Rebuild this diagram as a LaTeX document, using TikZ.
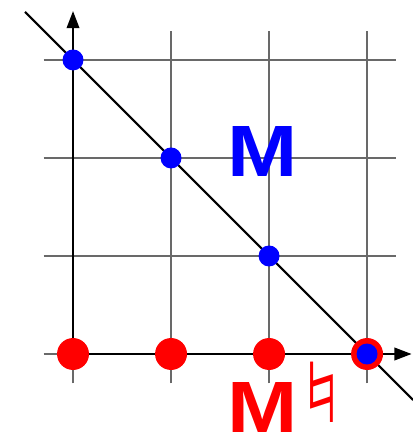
\documentclass[tikz,border=0pt]{standalone}
\usepackage{fontspec}
\newfontfamily\labelfont{Liberation Sans}
\newfontfamily\signfont{DejaVu Sans}
\usetikzlibrary{arrows.meta}
\definecolor{ink}{RGB}{0,0,0}
\definecolor{gridgray}{RGB}{105,105,105}
\definecolor{dotblue}{RGB}{0,0,255}
\definecolor{dotred}{RGB}{255,0,0}

\begin{document}
\begin{tikzpicture}[x=1cm, y=1cm,
  bluedot/.style={circle, fill=dotblue, inner sep=0pt, minimum size=0.214cm},
  reddot/.style={circle, fill=dotred, inner sep=0pt, minimum size=0.326cm},
  biglabel/.style={font=\labelfont\bfseries\fontsize{21.1}{21.1}\selectfont, inner sep=0pt}]
\useasboundingbox (-0.745,-0.806) rectangle (3.459,3.612);
% grid
\foreach \k in {0,...,3} {
  \draw[gridgray, line width=0.45pt] (\k,-0.3) -- (\k,3.3);
  \draw[gridgray, line width=0.45pt] (-0.3,\k) -- (3.3,\k);
}
% axes
\draw[ink, line width=0.7pt, -{Triangle[length=5pt, width=3.6pt]}] (0,0) -- (3.455,0);
\draw[ink, line width=0.7pt, -{Triangle[length=5pt, width=3.6pt]}] (0,0) -- (0,3.5);
% diagonal
\draw[ink, line width=0.6pt] (-0.49,3.49) -- (3.47,-0.47);
% points on the axis
\foreach \k in {0,...,3} {
  \node[reddot] (r\k) at (\k,0) {};
}
% points on the diagonal
\foreach \k in {0,...,3} {
  \node[bluedot] (b\k) at (\k,3-\k) {};
}
% labels
\node[biglabel, text=dotblue] (mlabel) at (1.939,2.061) {\scalebox{1.16}[1]{M}};
\node[biglabel, text=dotred, anchor=base] (mnat) at (1.939,-0.796) {\scalebox{1.16}[1]{M}};
\node[font=\signfont\fontsize{24}{24}\selectfont, text=dotred, inner sep=0pt] (natsign) at (2.536,-0.388) {\scalebox{1.45}[1]{♮}};
\end{tikzpicture}
\end{document}
